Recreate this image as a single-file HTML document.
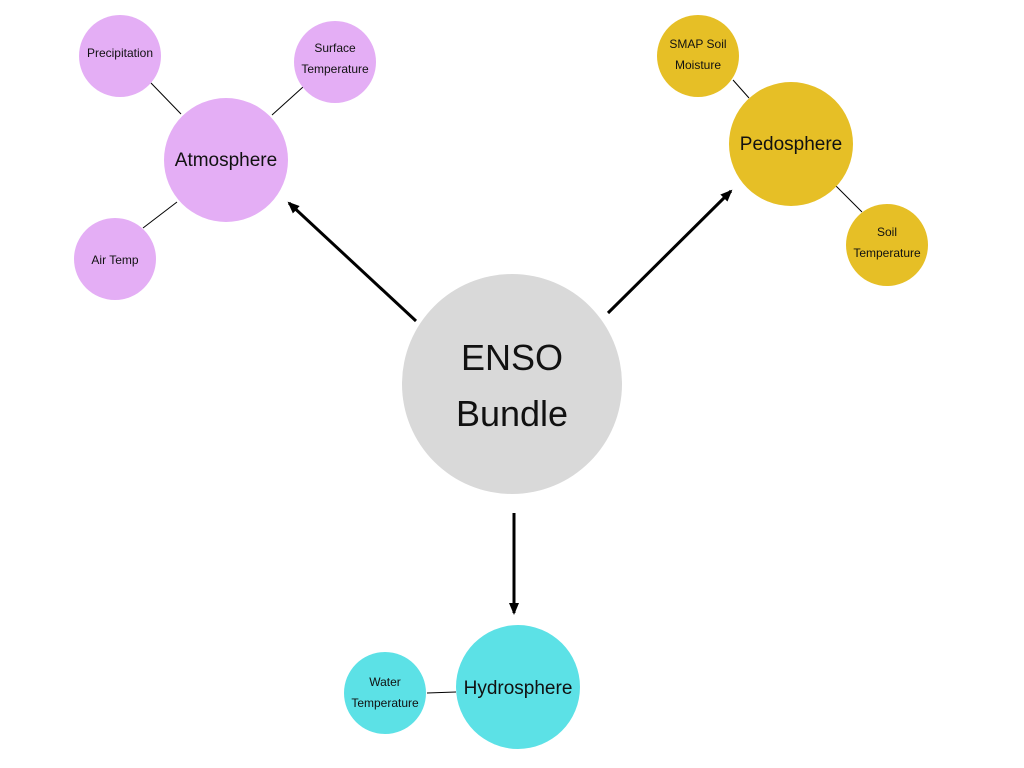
<!DOCTYPE html>
<html><head><meta charset="utf-8"><style>
html,body{margin:0;padding:0;background:#fff;}
svg{display:block;}
text{font-family:"Liberation Sans",sans-serif;fill:#111;text-anchor:middle;}
</style></head><body>
<svg width="1024" height="768" viewBox="0 0 1024 768" xmlns="http://www.w3.org/2000/svg">
<defs><marker id="a" markerWidth="12" markerHeight="10" refX="10" refY="5" orient="auto" markerUnits="userSpaceOnUse"><path d="M0,0 L12,5 L0,10 z" fill="#000"/></marker></defs>
<g stroke="#000" stroke-width="1">
<line x1="151" y1="83" x2="181" y2="114"/>
<line x1="272" y1="115" x2="303" y2="87"/>
<line x1="143" y1="228" x2="177" y2="202"/>
<line x1="733" y1="80" x2="749" y2="98"/>
<line x1="836" y1="186" x2="862" y2="212"/>
<line x1="427" y1="693" x2="456" y2="692"/>
</g>
<g stroke="#000" stroke-width="3" marker-end="url(#a)">
<line x1="416" y1="321" x2="289" y2="203"/>
<line x1="608" y1="313" x2="731" y2="191"/>
<line x1="514" y1="513" x2="514" y2="613"/>
</g>
<circle cx="512" cy="384" r="110" fill="#d9d9d9"/>
<circle cx="226" cy="160" r="62" fill="#e4aef5"/>
<circle cx="120" cy="56" r="41" fill="#e4aef5"/>
<circle cx="335" cy="62" r="41" fill="#e4aef5"/>
<circle cx="115" cy="259" r="41" fill="#e4aef5"/>
<circle cx="791" cy="144" r="62" fill="#e6bf26"/>
<circle cx="698" cy="56" r="41" fill="#e6bf26"/>
<circle cx="887" cy="245" r="41" fill="#e6bf26"/>
<circle cx="518" cy="687" r="62" fill="#5ce1e6"/>
<circle cx="385" cy="693" r="41" fill="#5ce1e6"/>
<text x="512" y="370" font-size="36">ENSO</text>
<text x="512" y="426" font-size="36">Bundle</text>
<text x="226" y="166" font-size="19">Atmosphere</text>
<text x="791" y="150" font-size="19">Pedosphere</text>
<text x="518" y="694" font-size="19">Hydrosphere</text>
<text x="120" y="57" font-size="12">Precipitation</text>
<text x="335" y="52" font-size="12">Surface</text>
<text x="335" y="73" font-size="12">Temperature</text>
<text x="115" y="264" font-size="12">Air Temp</text>
<text x="698" y="48" font-size="12">SMAP Soil</text>
<text x="698" y="69" font-size="12">Moisture</text>
<text x="887" y="236" font-size="12">Soil</text>
<text x="887" y="257" font-size="12">Temperature</text>
<text x="385" y="686" font-size="12">Water</text>
<text x="385" y="707" font-size="12">Temperature</text>
</svg>
</body></html>
